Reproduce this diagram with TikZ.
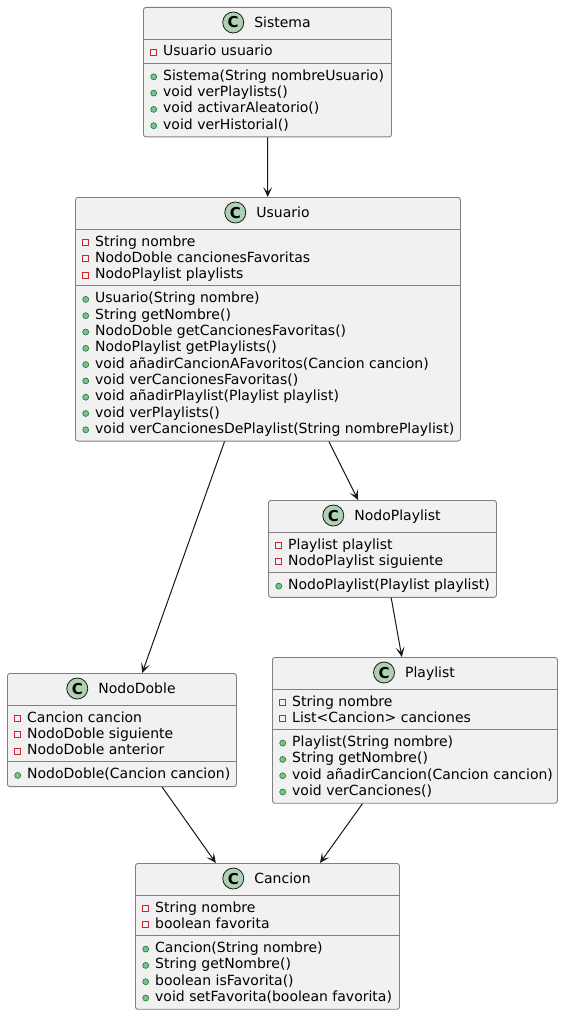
\documentclass[tikz,border=0pt]{standalone}
\usepackage{fontspec}
\setmainfont{DejaVu Sans}
\usepackage{xcolor}
\usepackage{tikz}
\usetikzlibrary{arrows.meta}

\definecolor{boxfill}{HTML}{F1F1F1}
\definecolor{boxline}{HTML}{808080}
\definecolor{iconfill}{HTML}{ADD1B2}
\definecolor{linkline}{HTML}{181818}
\definecolor{privline}{HTML}{C82930}
\definecolor{pubfill}{HTML}{84BE84}
\definecolor{publine}{HTML}{038048}

\newcommand{\memberfont}{\fontsize{14}{16.3}\selectfont}

\tikzset{
	classbox/.style={draw=boxline, fill=boxfill, line width=0.9pt, rounded corners=2.5pt, anchor=north west, inner sep=0pt},
	sepline/.style={draw=boxline, line width=0.9pt},
	cicon/.style={circle, draw=linkline, fill=iconfill, line width=0.8pt, minimum size=21pt, inner sep=0pt, text height=11pt, text depth=0pt, xshift=-10pt, font=\bfseries\fontsize{15}{15}\selectfont},
	cname/.style={inner sep=0pt, text height=10pt, text depth=0pt, font=\memberfont, label={[cicon]left:C}},
	pubdot/.style={circle, draw=publine, fill=pubfill, line width=0.6pt, minimum size=6pt, inner sep=0pt, text height=0pt, text depth=0pt, xshift=-6pt},
	privsq/.style={rectangle, draw=privline, line width=0.8pt, minimum size=6pt, inner sep=0pt, text height=0pt, text depth=0pt, xshift=-6pt},
	member/.style={anchor=west, inner sep=0pt, text height=7pt, text depth=0pt, font=\memberfont},
	pub/.style={member, label={[pubdot]left:{}}},
	priv/.style={member, label={[privsq]left:{}}},
	assoc/.style={draw=linkline, line width=1pt, -{Stealth[length=10pt, width=9pt, inset=5pt]}}
}

\begin{document}
\begin{tikzpicture}[x=1pt, y=-1pt]
				\fill[white] (0, 0) rectangle (563, 1014);
				\useasboundingbox (0, 0) rectangle (563, 1014);
				
				%Boxes
				\node[classbox, minimum width=248pt, minimum height=129.5pt] (sistema) at (143, 7) {};
				\node[classbox, minimum width=385pt, minimum height=243.6pt] (usuario) at (75, 197) {};
				\node[classbox, minimum width=228pt, minimum height=96.9pt] (nodoplaylist) at (268, 500) {};
				\node[classbox, minimum width=285pt, minimum height=145.8pt] (playlist) at (272, 657) {};
				\node[classbox, minimum width=229pt, minimum height=113.2pt] (nododoble) at (7, 673) {};
				\node[classbox, minimum width=264pt, minimum height=145.8pt] (cancion) at (135, 863) {};
				
				%Separators
				\draw[sepline] (143, 39) -- (391, 39);
				\draw[sepline] (143, 63.3) -- (391, 63.3);
				\draw[sepline] (75, 229) -- (460, 229);
				\draw[sepline] (75, 285.9) -- (460, 285.9);
				\draw[sepline] (268, 532) -- (496, 532);
				\draw[sepline] (268, 572.6) -- (496, 572.6);
				\draw[sepline] (272, 689) -- (557, 689);
				\draw[sepline] (272, 729.6) -- (557, 729.6);
				\draw[sepline] (7, 705) -- (236, 705);
				\draw[sepline] (7, 761.9) -- (236, 761.9);
				\draw[sepline] (135, 895) -- (399, 895);
				\draw[sepline] (135, 935.6) -- (399, 935.6);
				
				%Sistema
				\node[cname] (sistema-name) at (282.5, 22.5) {Sistema};
				\node[priv] (sistema-a1) at (163, 52.5) {Usuario usuario};
				\node[pub] (sistema-m1) at (163, 76.8) {Sistema(String nombreUsuario)};
				\node[pub] (sistema-m2) at (163, 93.1) {void verPlaylists()};
				\node[pub] (sistema-m3) at (163, 109.4) {void activarAleatorio()};
				\node[pub] (sistema-m4) at (163, 125.7) {void verHistorial()};
				
				%Usuario
				\node[cname] (usuario-name) at (283, 212.5) {Usuario};
				\node[priv] (usuario-a1) at (95, 242.5) {String nombre};
				\node[priv] (usuario-a2) at (95, 258.8) {NodoDoble cancionesFavoritas};
				\node[priv] (usuario-a3) at (95, 275.1) {NodoPlaylist playlists};
				\node[pub] (usuario-m1) at (95, 299.4) {Usuario(String nombre)};
				\node[pub] (usuario-m2) at (95, 315.7) {String getNombre()};
				\node[pub] (usuario-m3) at (95, 332.0) {NodoDoble getCancionesFavoritas()};
				\node[pub] (usuario-m4) at (95, 348.3) {NodoPlaylist getPlaylists()};
				\node[pub] (usuario-m5) at (95, 364.6) {void añadirCancionAFavoritos(Cancion cancion)};
				\node[pub] (usuario-m6) at (95, 380.9) {void verCancionesFavoritas()};
				\node[pub] (usuario-m7) at (95, 397.2) {void añadirPlaylist(Playlist playlist)};
				\node[pub] (usuario-m8) at (95, 413.5) {void verPlaylists()};
				\node[pub] (usuario-m9) at (95, 429.8) {void verCancionesDePlaylist(String nombrePlaylist)};
				
				%NodoPlaylist
				\node[cname] (nodoplaylist-name) at (397.5, 515.5) {NodoPlaylist};
				\node[priv] (nodoplaylist-a1) at (288, 545.5) {Playlist playlist};
				\node[priv] (nodoplaylist-a2) at (288, 561.8) {NodoPlaylist siguiente};
				\node[pub] (nodoplaylist-m1) at (288, 586.1) {NodoPlaylist(Playlist playlist)};
				
				%Playlist
				\node[cname] (playlist-name) at (430, 672.5) {Playlist};
				\node[priv] (playlist-a1) at (292, 702.5) {String nombre};
				\node[priv] (playlist-a2) at (292, 718.8) {List<Cancion> canciones};
				\node[pub] (playlist-m1) at (292, 743.1) {Playlist(String nombre)};
				\node[pub] (playlist-m2) at (292, 759.4) {String getNombre()};
				\node[pub] (playlist-m3) at (292, 775.7) {void añadirCancion(Cancion cancion)};
				\node[pub] (playlist-m4) at (292, 792.0) {void verCanciones()};
				
				%NodoDoble
				\node[cname] (nododoble-name) at (137, 688.5) {NodoDoble};
				\node[priv] (nododoble-a1) at (27, 718.5) {Cancion cancion};
				\node[priv] (nododoble-a2) at (27, 734.8) {NodoDoble siguiente};
				\node[priv] (nododoble-a3) at (27, 751.1) {NodoDoble anterior};
				\node[pub] (nododoble-m1) at (27, 775.4) {NodoDoble(Cancion cancion)};
				
				%Cancion
				\node[cname] (cancion-name) at (282.5, 878.5) {Cancion};
				\node[priv] (cancion-a1) at (155, 908.5) {String nombre};
				\node[priv] (cancion-a2) at (155, 924.8) {boolean favorita};
				\node[pub] (cancion-m1) at (155, 949.1) {Cancion(String nombre)};
				\node[pub] (cancion-m2) at (155, 965.4) {String getNombre()};
				\node[pub] (cancion-m3) at (155, 981.7) {boolean isFavorita()};
				\node[pub] (cancion-m4) at (155, 998.0) {void setFavorita(boolean favorita)};
				
				%Lines
				\draw[assoc] (sistema) -- (usuario);
				\draw[assoc] (usuario) -- (nododoble);
				\draw[assoc] (usuario) -- (nodoplaylist);
				\draw[assoc] (nodoplaylist) -- (playlist);
				\draw[assoc] (nododoble) -- (cancion);
				\draw[assoc] (playlist) -- (cancion);
\end{tikzpicture}
\end{document}
